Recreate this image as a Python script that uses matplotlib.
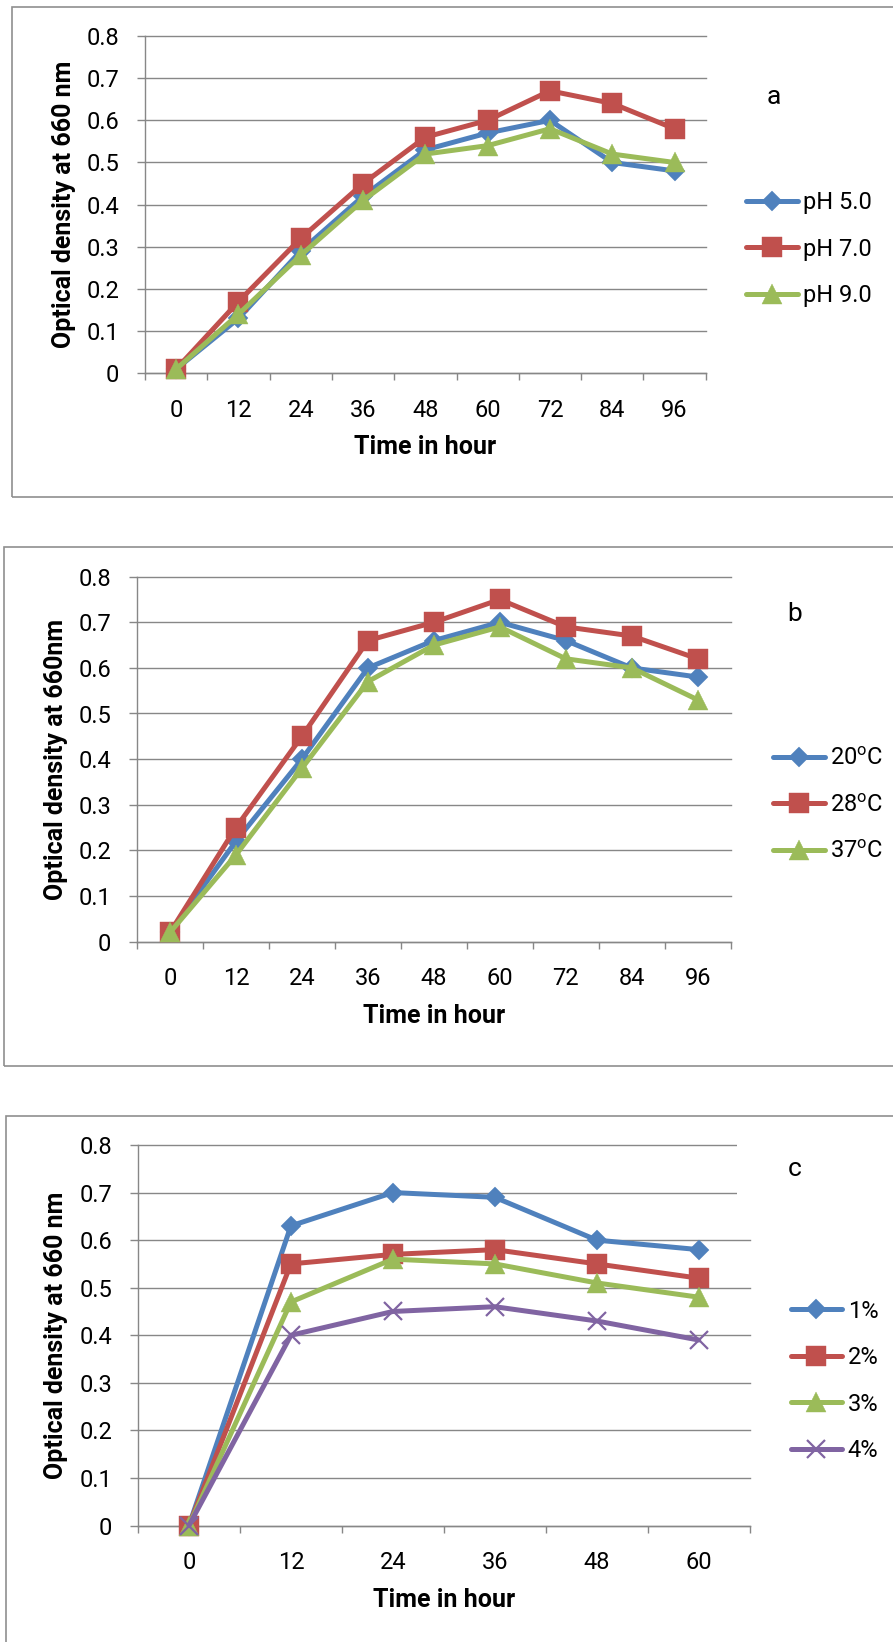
import matplotlib
matplotlib.use('Agg')
import matplotlib.pyplot as plt
from matplotlib.patches import Rectangle

# ---------------- data ----------------
hours_a = [0, 12, 24, 36, 48, 60, 72, 84, 96]
labels_a = ['pH 5.0', 'pH 7.0', 'pH 9.0']
ph5 = [0.01, 0.13, 0.29, 0.42, 0.53, 0.57, 0.60, 0.50, 0.48]
ph7 = [0.01, 0.17, 0.32, 0.45, 0.56, 0.60, 0.67, 0.64, 0.58]
ph9 = [0.01, 0.14, 0.28, 0.41, 0.52, 0.54, 0.58, 0.52, 0.50]

hours_b = [0, 12, 24, 36, 48, 60, 72, 84, 96]
labels_b = ['20$^{\\mathrm{o}}$C', '28$^{\\mathrm{o}}$C', '37$^{\\mathrm{o}}$C']
t20 = [0.02, 0.22, 0.40, 0.60, 0.66, 0.70, 0.66, 0.60, 0.58]
t28 = [0.02, 0.25, 0.45, 0.66, 0.70, 0.75, 0.69, 0.67, 0.62]
t37 = [0.02, 0.19, 0.38, 0.57, 0.65, 0.69, 0.62, 0.60, 0.53]

hours_c = [0, 12, 24, 36, 48, 60]
labels_c = ['1%', '2%', '3%', '4%']
c1 = [0.00, 0.63, 0.70, 0.69, 0.60, 0.58]
c2 = [0.00, 0.55, 0.57, 0.58, 0.55, 0.52]
c3 = [0.00, 0.47, 0.56, 0.55, 0.51, 0.48]
c4 = [0.00, 0.40, 0.45, 0.46, 0.43, 0.39]

y_ticks = [0, 0.1, 0.2, 0.3, 0.4, 0.5, 0.6, 0.7, 0.8]
y_tick_labels = ['0', '0.1', '0.2', '0.3', '0.4', '0.5', '0.6', '0.7', '0.8']

xlabel_text = 'Time in hour'
ylabels = ['Optical density at 660 nm', 'Optical density at 660nm', 'Optical density at 660 nm']
panel_letters = ['a', 'b', 'c']

# ---------------- style ----------------
plt.rcParams['font.family'] = ['Roboto', 'DejaVu Sans']
plt.rcParams['mathtext.fontset'] = 'custom'
plt.rcParams['mathtext.rm'] = 'Roboto'
plt.rcParams['mathtext.it'] = 'Roboto:italic'
plt.rcParams['mathtext.bf'] = 'Roboto:bold'

W, H = 893, 1642
DPI = 100
GRID = '#878787'
BOX = '#8f8f8f'
COLORS = ['#4F81BD', '#C0504D', '#9BBB59', '#8064A2']
MARKERS = [('D', 10.5), ('s', 14.5), ('^', 14.5), ('x', 13.5)]
LW = 3.6
FS = 17
FS_LAB = 18

fig = plt.figure(figsize=(W / DPI, H / DPI), dpi=DPI)
fig.patch.set_facecolor('white')


def fx(x):
    return x / W


def fy(y):
    return 1 - y / H


def add_box(left, top, right, bottom):
    r = Rectangle((fx(left), fy(bottom)), fx(right) - fx(left), fy(top) - fy(bottom),
                  transform=fig.transFigure, fill=False, edgecolor=BOX, lw=1.2,
                  clip_on=False, zorder=0)
    fig.add_artist(r)


def make_panel(px, hours, series, labels, ylabel, letter, letter_xy, ylabel_x,
               leg_left, leg_row1):
    left, top, right, bottom = px
    ax = fig.add_axes([fx(left), fy(bottom), fx(right) - fx(left), fy(top) - fy(bottom)])
    n = len(hours)
    xs = list(range(n))
    for i, (vals, lab) in enumerate(zip(series, labels)):
        m, ms = MARKERS[i]
        ax.plot(xs, vals, color=COLORS[i], lw=LW, marker=m, ms=ms,
                mfc=COLORS[i], mec=COLORS[i], mew=1.6 if m == 'x' else 0.3,
                label=lab, solid_capstyle='round', solid_joinstyle='round',
                clip_on=False, zorder=3 + i)
    ax.set_xlim(-0.5, n - 0.5)
    ax.set_ylim(0, 0.8)
    ax.set_yticks(y_ticks)
    ax.set_yticklabels(y_tick_labels)
    ax.set_xticks([k - 0.5 for k in range(n + 1)])
    ax.set_xticklabels([])
    ax.set_xticks(xs, minor=True)
    ax.set_xticklabels([str(h) for h in hours], minor=True)
    ax.tick_params(axis='x', which='major', direction='out', length=5, width=1.0,
                   color=GRID)
    ax.tick_params(axis='x', which='minor', length=0, pad=18.5, labelsize=FS,
                   labelcolor='black')
    ax.tick_params(axis='y', which='major', direction='out', length=6, width=1.0,
                   color=GRID, pad=12.5, labelsize=FS, labelcolor='black')
    for s in ['top', 'right']:
        ax.spines[s].set_visible(False)
    for s in ['left', 'bottom']:
        ax.spines[s].set_color(GRID)
        ax.spines[s].set_linewidth(1.0)
    ax.yaxis.grid(True, color=GRID, lw=1.0)
    ax.set_axisbelow(True)
    for gl in ax.get_ygridlines():
        gl.set_clip_on(False)

    ax_w = right - left
    ax_h = bottom - top
    ax.set_xlabel(xlabel_text, fontsize=FS_LAB, fontweight='bold')
    ax.xaxis.label.set_va('center')
    ax.xaxis.set_label_coords(0.5, -74 / ax_h)
    ax.set_ylabel(ylabel, fontsize=FS_LAB, fontweight='bold')
    ax.yaxis.label.set_va('center')
    ax.yaxis.set_label_coords(-(left - ylabel_x) / ax_w, 0.5)

    fig.text(fx(letter_xy[0]), fy(letter_xy[1]), letter, fontsize=19,
             ha='center', va='center', zorder=10)

    ax.legend(loc='upper left', bbox_to_anchor=(fx(leg_left), fy(leg_row1 - 12)),
              bbox_transform=fig.transFigure, frameon=False, fontsize=FS,
              handlelength=2.2, handletextpad=0.22, borderpad=0,
              borderaxespad=0, labelspacing=1.0, numpoints=1)
    return ax


add_box(12.3, 6.7, 920, 496.7)
add_box(4.3, 546.7, 920, 1065.7)
add_box(5.7, 1115.7, 920, 1680)

make_panel((145, 36, 705.7, 373.3), hours_a, [ph5, ph7, ph9], labels_a,
           ylabels[0], panel_letters[0], (774, 97), 64.5, 746, 203)
make_panel((137, 576.7, 730.7, 941.5), hours_b, [t20, t28, t37], labels_b,
           ylabels[1], panel_letters[1], (794.7, 614), 55.5, 773, 759)
make_panel((138, 1145, 749.7, 1525.5), hours_c, [c1, c2, c3, c4], labels_c,
           ylabels[2], panel_letters[2], (794.7, 1169), 56, 790.5, 1311.5)

# white label box of panel c covering the ends of the two top gridlines
fig.add_artist(Rectangle((fx(737), fy(1215)), fx(800) - fx(737), fy(1138) - fy(1215),
                         transform=fig.transFigure, facecolor='white',
                         edgecolor='none', zorder=5))

fig.savefig('out.png', dpi=DPI, facecolor='white')
